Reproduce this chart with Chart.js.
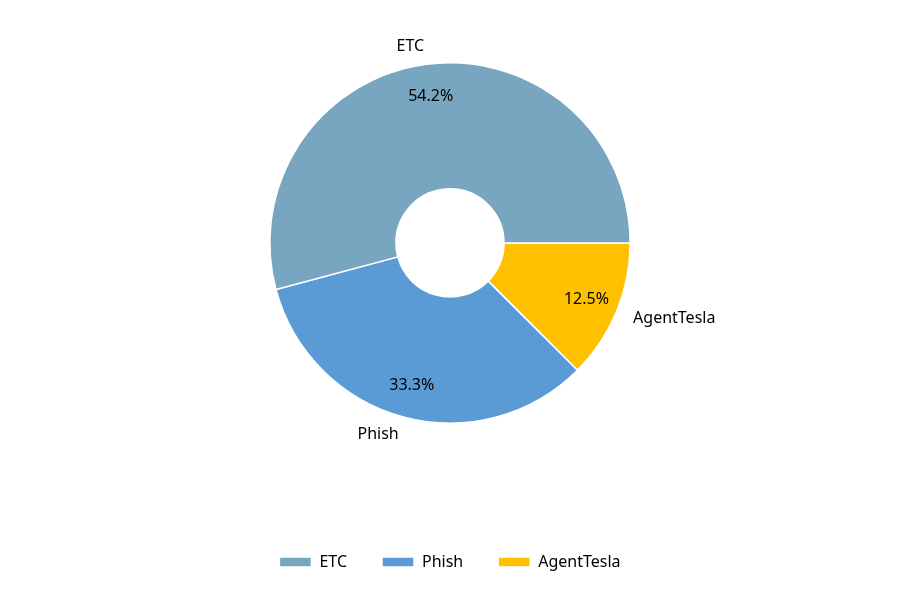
<!DOCTYPE html>
<html>
<head>
<meta charset="utf-8">
<script src="https://cdn.jsdelivr.net/npm/chart.js@4/dist/chart.umd.min.js"></script>
<style>
  html, body { margin: 0; padding: 0; background: #fff; }
  #wrap { width: 900px; height: 600px; }
</style>
</head>
<body>
<div id="wrap"><canvas id="pie" width="900" height="600"></canvas></div>
<script>
// data (counts), legend order
const categories = ["ETC", "Phish", "AgentTesla"];
const counts = [13, 8, 3];
const colors = ["#78a5bf", "#5b9bd5", "#ffc000"];

const FONT = "'Noto Sans', 'DejaVu Sans', sans-serif";

// matplotlib draws counter-clockwise from 3 o'clock; chart.js goes clockwise,
// so feed the slices reversed and start at 90deg
const revLabels = categories.slice().reverse();
const revCounts = counts.slice().reverse();
const revColors = colors.slice().reverse();

// outside labels + percentages, like autopct
const sliceText = {
    id: "sliceText",
    afterDatasetsDraw(chart) {
        const ctx = chart.ctx;
        const meta = chart.getDatasetMeta(0);
        const total = revCounts.reduce((a, b) => a + b, 0);
        ctx.save();
        ctx.font = "16px " + FONT;
        ctx.fillStyle = "#000";
        ctx.textBaseline = "middle";
        meta.data.forEach((arc, i) => {
            const mid = (arc.startAngle + arc.endAngle) / 2;
            const R = arc.outerRadius;
            const cx = arc.x, cy = arc.y;

            const pct = (revCounts[i] / total * 100).toFixed(1) + "%";
            ctx.textAlign = "center";
            ctx.fillText(pct, cx + Math.cos(mid) * R * 0.82, cy + Math.sin(mid) * R * 0.82);

            const lx = cx + Math.cos(mid) * R * 1.1;
            const ly = cy + Math.sin(mid) * R * 1.1;
            ctx.textAlign = Math.cos(mid) >= 0 ? "left" : "right";
            ctx.fillText(revLabels[i], lx, ly);
        });
        ctx.restore();
    }
};

new Chart(document.getElementById("pie"), {
    type: "doughnut",
    data: {
        labels: revLabels,
        datasets: [{
            data: revCounts,
            backgroundColor: revColors,
            borderColor: "#ffffff",
            borderWidth: 1.5,
            hoverOffset: 0
        }]
    },
    options: {
        responsive: false,
        animation: false,
        rotation: 90,
        cutout: "30%",
        layout: { padding: { top: 62, left: 0, right: 0, bottom: 20 } },
        plugins: {
            legend: {
                position: "bottom",
                reverse: true,
                // empty title used only as a spacer above the legend row
                title: { display: true, text: " ", padding: { top: 76, bottom: 0 }, font: { size: 16 } },
                labels: {
                    boxWidth: 32,
                    boxHeight: 10,
                    padding: 35,
                    color: "#000",
                    font: { family: FONT, size: 16 }
                }
            },
            tooltip: { enabled: false }
        }
    },
    plugins: [sliceText]
});
</script>
</body>
</html>
